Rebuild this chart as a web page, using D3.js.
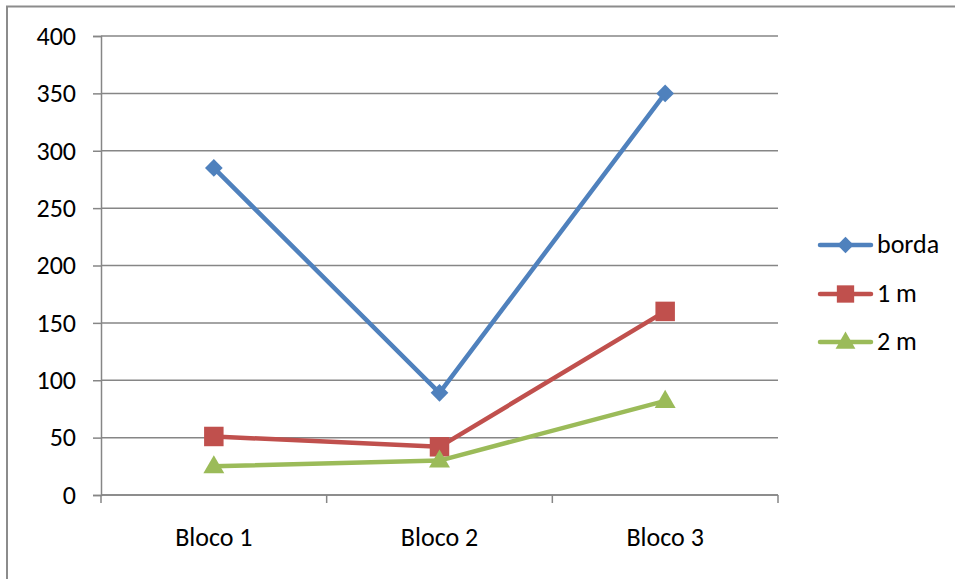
<!DOCTYPE html>
<html>
<head>
<meta charset="utf-8">
<script src="https://cdn.jsdelivr.net/npm/d3@7"></script>
<style>
  html, body { margin: 0; padding: 0; background: #fff; }
  svg { display: block; font-family: Carlito, Calibri, "Open Sans", "Liberation Sans", sans-serif; }
</style>
</head>
<body>
<svg id="chart" width="955" height="579"></svg>
<script>
// Categories, series and axis ticks
const categories = ["Bloco 1", "Bloco 2", "Bloco 3"];
const seriesNames = ["borda", "1 m", "2 m"];
const bordaValues = [285, 89, 350];
const oneMValues = [51, 42, 160];
const twoMValues = [25, 30, 82];
const yTicks = [0, 50, 100, 150, 200, 250, 300, 350, 400];

const seriesList = [
  { name: seriesNames[0], values: bordaValues, color: "#4F81BD", symbol: "diamond" },
  { name: seriesNames[1], values: oneMValues, color: "#C0504D", symbol: "square" },
  { name: seriesNames[2], values: twoMValues, color: "#9BBB59", symbol: "triangle" }
];

const FONT_SIZE = 26;
const svg = d3.select("#chart");
const plot = { left: 101, right: 778, top: 36, bottom: 495 };

// Outer chart frame (runs past the right and bottom edges)
svg.append("rect")
  .attr("x", 7).attr("y", 6.5)
  .attr("width", 1000).attr("height", 1000)
  .attr("fill", "none").attr("stroke", "#8c8c8c").attr("stroke-width", 2);

const x = d3.scaleBand().domain(categories).range([plot.left, plot.right]);
const y = d3.scaleLinear().domain([0, 400]).range([plot.bottom, plot.top]);

// Horizontal gridlines
svg.append("g")
  .selectAll("line")
  .data(yTicks)
  .join("line")
  .attr("x1", plot.left).attr("x2", plot.right)
  .attr("y1", d => y(d)).attr("y2", d => y(d))
  .attr("stroke", "#868686").attr("stroke-width", 1.5);

// Y axis
const yAxis = svg.append("g")
  .attr("transform", `translate(${plot.left},0)`)
  .call(d3.axisLeft(y).tickValues(yTicks).tickSize(8).tickPadding(17));
yAxis.select(".domain").attr("stroke", "#868686").attr("stroke-width", 1.5);
yAxis.selectAll(".tick line").attr("stroke", "#868686").attr("stroke-width", 1.5);
yAxis.selectAll("text").attr("font-size", FONT_SIZE).attr("fill", "#000")
  .attr("font-family", "Carlito, Calibri, 'Open Sans', 'Liberation Sans', sans-serif");

// X axis with ticks at category boundaries
const xAxisG = svg.append("g").attr("transform", `translate(0,${plot.bottom})`);
xAxisG.append("line")
  .attr("x1", plot.left).attr("x2", plot.right)
  .attr("stroke", "#868686").attr("stroke-width", 1.5);
const bounds = categories.map(c => x(c)).concat([x(categories[categories.length - 1]) + x.bandwidth()]);
xAxisG.selectAll("line.tick")
  .data(bounds)
  .join("line")
  .attr("class", "tick")
  .attr("x1", d => d).attr("x2", d => d)
  .attr("y1", 0).attr("y2", 8)
  .attr("stroke", "#868686").attr("stroke-width", 1.5);
xAxisG.selectAll("text")
  .data(categories)
  .join("text")
  .attr("x", d => x(d) + x.bandwidth() / 2)
  .attr("y", 51)
  .attr("text-anchor", "middle")
  .attr("font-size", FONT_SIZE)
  .attr("fill", "#000")
  .text(d => d);

const symbolFor = {
  diamond: d3.symbol().type(d3.symbolDiamond2).size(200),
  square: d3.symbol().type(d3.symbolSquare).size(380),
  triangle: d3.symbol().type(d3.symbolTriangle).size(190)
};

const line = d3.line()
  .x((d, i) => x(categories[i]) + x.bandwidth() / 2)
  .y(d => y(d));

// Series lines and markers
seriesList.forEach(s => {
  const g = svg.append("g");
  g.append("path")
    .datum(s.values)
    .attr("d", line)
    .attr("fill", "none")
    .attr("stroke", s.color)
    .attr("stroke-width", 4.5)
    .attr("stroke-linejoin", "round")
    .attr("stroke-linecap", "round");
  g.selectAll("path.marker")
    .data(s.values)
    .join("path")
    .attr("class", "marker")
    .attr("transform", (d, i) => {
      const cx = x(categories[i]) + x.bandwidth() / 2;
      const cy = y(d) + (s.symbol === "triangle" ? 1 : 0);
      return `translate(${cx},${cy})`;
    })
    .attr("d", symbolFor[s.symbol]())
    .attr("fill", s.color);
});

// Legend
const legend = svg.append("g");
const legendY = [245, 294, 342];
seriesList.forEach((s, i) => {
  const g = legend.append("g").attr("transform", `translate(0,${legendY[i]})`);
  g.append("line")
    .attr("x1", 820).attr("x2", 871)
    .attr("stroke", s.color).attr("stroke-width", 4.5)
    .attr("stroke-linecap", "round");
  g.append("path")
    .attr("transform", `translate(845.5,${s.symbol === "triangle" ? 1 : 0})`)
    .attr("d", d3.symbol().type(
      s.symbol === "diamond" ? d3.symbolDiamond2 : s.symbol === "square" ? d3.symbolSquare : d3.symbolTriangle
    ).size(s.symbol === "square" ? 300 : 170)())
    .attr("fill", s.color);
  g.append("text")
    .attr("x", 877).attr("y", 8)
    .attr("font-size", FONT_SIZE)
    .attr("fill", "#000")
    .text(s.name);
});
</script>
</body>
</html>
